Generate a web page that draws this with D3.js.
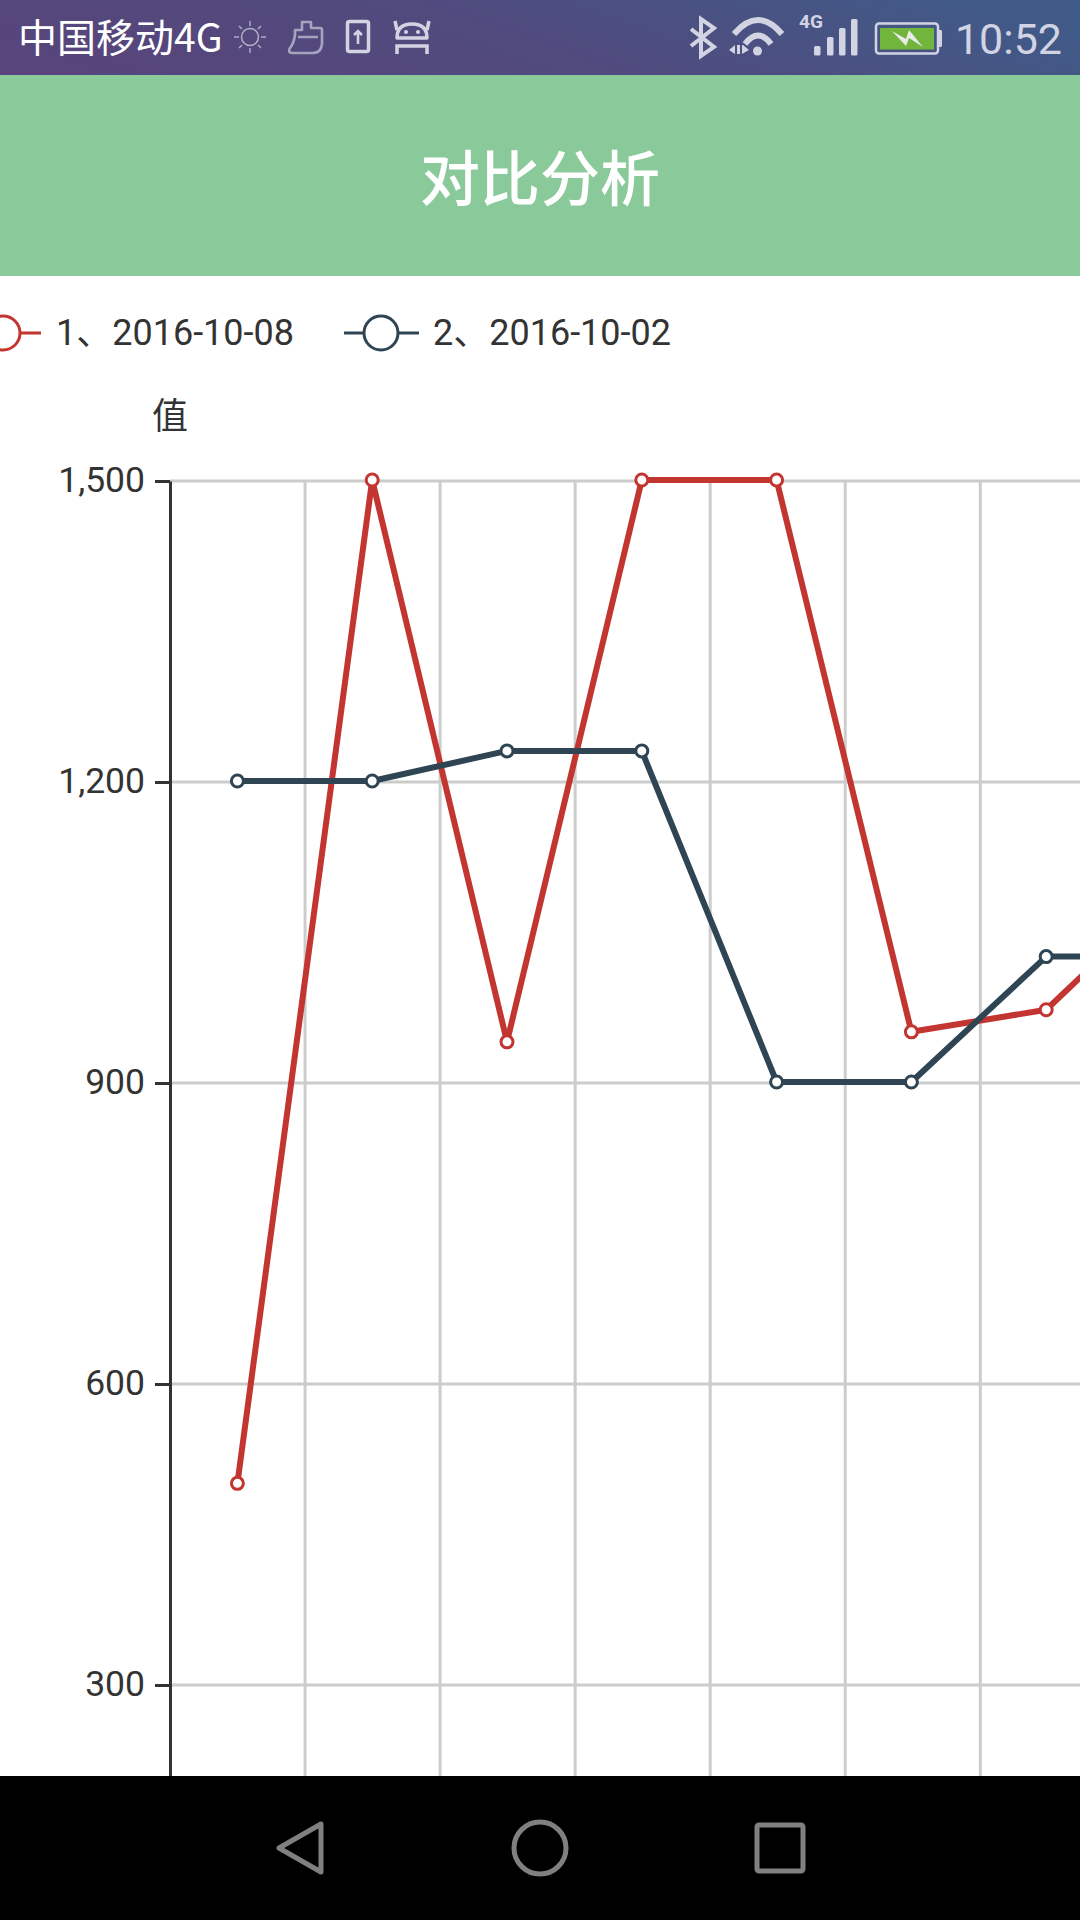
<!DOCTYPE html>
<html><head><meta charset="utf-8">
<script src="https://cdn.jsdelivr.net/npm/d3@7/dist/d3.min.js"></script>
<style>html,body{margin:0;padding:0;background:#fff}svg{display:block}text{font-family:Roboto,"Noto Sans CJK SC",sans-serif}</style>
</head><body><div id="c"></div>
<script>
const categories = [1,2,3,4,5,6,7,8];
const seriesRed = [500,1500,940,1500,1500,950,972,1100];
const seriesBlue = [1200,1200,1230,1230,900,900,1025,1025];
const legendNames = ["1、2016-10-08","2、2016-10-02"];
const yTicks = [300,600,900,1200,1500];
const titleText = "对比分析";
const axisName = "值";
const carrier = "中国移动4G";
const clock = "10:52";
const RED="#c23531",BLUE="#2f4554",INK="#333",GRID="#ccc",ICON="#d3d4e3";

const svg=d3.select("#c").append("svg").attr("width",1080).attr("height",1920);
const defs=svg.append("defs");
const g0=defs.append("linearGradient").attr("id","sb").attr("x1",0).attr("y1",.6).attr("x2",1).attr("y2",.4);
g0.append("stop").attr("offset",0).attr("stop-color","#57457b");
g0.append("stop").attr("offset",.5).attr("stop-color","#504b7e");
g0.append("stop").attr("offset",1).attr("stop-color","#405b88");

const x=d3.scaleBand().domain(categories).range([170,170+134.8*categories.length]);
const xGrid=d3.scaleBand().domain(categories).range([170,170+135.05*categories.length]);
const y=d3.scaleLinear().domain([0,1500]).range([1986,481]);
const cx=d=>x(d)+x.bandwidth()/2;

// chart grid
const plot=svg.append("g");
plot.append("g").selectAll("line").data(categories.slice(1)).join("line")
 .attr("x1",d=>xGrid(d)).attr("x2",d=>xGrid(d)).attr("y1",y(1500)).attr("y2",y(0))
 .attr("stroke",GRID).attr("stroke-width",3);
plot.append("g").selectAll("line").data(yTicks).join("line")
 .attr("x1",170).attr("x2",1250).attr("y1",d=>y(d)).attr("y2",d=>y(d))
 .attr("stroke",GRID).attr("stroke-width",3);

// axis
const ax=plot.append("g").attr("transform","translate(170,0)")
 .call(d3.axisLeft(y).tickValues(yTicks).tickFormat(d3.format(",")).tickSize(15).tickPadding(10).tickSizeOuter(0));
ax.select(".domain").attr("stroke",INK).attr("stroke-width",3);
ax.selectAll(".tick line").attr("stroke",INK).attr("stroke-width",3);
ax.selectAll(".tick text").attr("fill",INK).attr("y",-1).style("font-size","35.5px").style("font-family",'Roboto,"Noto Sans CJK SC"');
plot.append("text").attr("x",170).attr("y",429).attr("text-anchor","middle").attr("font-size",36).attr("fill",INK).text(axisName);

// series
const line=d3.line().x((d,i)=>cx(categories[i])).y(d=>y(d));
[[seriesRed,RED],[seriesBlue,BLUE]].forEach(([s,c])=>{
  const g=plot.append("g").attr("transform","translate(0,-1)");
  g.append("path").attr("d",line(s)).attr("fill","none").attr("stroke",c).attr("stroke-width",6).attr("stroke-linejoin","bevel");
  g.selectAll("circle").data(s).join("circle")
   .attr("cx",(d,i)=>cx(categories[i])).attr("cy",d=>y(d)).attr("r",6)
   .attr("fill","#fff").attr("stroke",c).attr("stroke-width",3);
});

// legend
const legend=svg.append("g");
const legendAt=[{cx:3,x:56},{cx:381,x:433}];
legendNames.forEach((n,i)=>{
  const c=[RED,BLUE][i],a=legendAt[i];
  legend.append("line").attr("x1",a.cx-37).attr("x2",a.cx+38).attr("y1",333).attr("y2",333).attr("stroke",c).attr("stroke-width",3);
  legend.append("circle").attr("cx",a.cx).attr("cy",333).attr("r",17).attr("fill","#fff").attr("stroke",c).attr("stroke-width",3);
  legend.append("text").attr("x",a.x).attr("y",345).attr("font-size",36).attr("fill",INK).text(n);
});

// header
svg.append("rect").attr("y",75).attr("width",1080).attr("height",201).attr("fill","#8ac99a");
svg.append("text").attr("x",540).attr("y",201).attr("text-anchor","middle").attr("font-size",60).attr("font-weight",500).attr("fill","#fff").style("font-family",'"Noto Sans CJK SC"').text(titleText);

// status bar
const sb=svg.append("g");
sb.append("rect").attr("width",1080).attr("height",75).attr("fill","url(#sb)");
sb.append("text").attr("x",18).attr("y",52).attr("font-size",39).attr("fill","#fff").style("font-family",'"Noto Sans CJK SC"').text(carrier);
sb.append("text").attr("x",1062).attr("y",54).attr("text-anchor","end").attr("font-size",43).attr("fill",ICON).text(clock);
// sun
const icons=sb.append("g").attr("fill","none").attr("stroke",ICON);
icons.append("circle").attr("cx",250).attr("cy",37).attr("r",8.5).attr("stroke-width",1.5).attr("opacity",.75);
icons.append("path").attr("opacity",.7).attr("stroke-width",1.5)
 .attr("d","M234 37h5M261 37h5M250 21v5M250 48v5M239 26l3 3M258 45l3 3M261 26l-3 3M242 45l-3 3");
// bag
icons.append("path").attr("stroke-width",2.6).attr("opacity",.65).attr("stroke-linejoin","round")
 .attr("d","M295 30h7v-8h9v6h9q2 0 2 2v14q-1 9-9 9h-20q-6 0-3-5q4-5 5-13zM298 37h20");
// upload
icons.append("rect").attr("x",347.5).attr("y",21.5).attr("width",21).attr("height",30).attr("rx",2).attr("stroke-width",3.5);
icons.append("path").attr("stroke-width",2.6).attr("d","M358 44V32M354 35l4-4 4 4");
// android
icons.append("path").attr("stroke-width",3.5).attr("d","M397 38q0-14 15-14t15 14zM397 30l-2-9M427 30l2-9").attr("stroke-linejoin","round");
icons.append("path").attr("stroke-width",3.5).attr("d","M397 54V46h30v8");
sb.append("circle").attr("cx",406).attr("cy",32).attr("r",2).attr("fill",ICON);
sb.append("circle").attr("cx",418).attr("cy",32).attr("r",2).attr("fill",ICON);
// bluetooth
icons.append("path").attr("stroke-width",4).attr("d","M691 29l23 18-13 9V19l13 9-23 18");
// wifi
icons.append("path").attr("stroke-width",6).attr("d","M734 34Q758 6 782 34M745 44Q758 27 771 44");
sb.append("circle").attr("cx",757.5).attr("cy",51).attr("r",4.5).attr("fill",ICON);
sb.append("path").attr("fill",ICON).attr("d","M729 50l6-5v9zM737 45h3v9h-3zM742 45l1 0 6 5-7 4z");
// signal
sb.append("text").attr("x",799).attr("y",28).attr("font-size",19).attr("font-weight",700).attr("fill",ICON).text("4G");
sb.selectAll("rect.sig").data([[814,46],[827,37],[839,28],[851,19]]).join("rect").attr("class","sig")
 .attr("x",d=>d[0]).attr("y",d=>d[1]).attr("width",6.5).attr("height",d=>55.5-d[1]).attr("rx",1.5).attr("fill",ICON);
// battery
icons.append("rect").attr("x",876).attr("y",23.5).attr("width",62).attr("height",30).attr("rx",3).attr("stroke-width",2.5);
sb.append("rect").attr("x",880).attr("y",28).attr("width",54).attr("height",21.5).attr("fill","#72b53c");
sb.append("path").attr("fill",ICON).attr("d","M939 30h2q1 0 1 2v13q0 2-1 2h-2z");
sb.append("path").attr("fill","#e8ebe8").attr("d","M892 31l14 8 3-9 14 17-14-9-3 8z");

// nav bar
const nav=svg.append("g");
nav.append("rect").attr("y",1776).attr("width",1080).attr("height",144).attr("fill","#000");
const ng=nav.append("g").attr("fill","none").attr("stroke","#808080").attr("stroke-width",5).attr("stroke-linejoin","round");
ng.append("path").attr("d","M321 1824V1872L279 1848Z");
ng.append("circle").attr("cx",540).attr("cy",1848).attr("r",26);
ng.append("rect").attr("x",757).attr("y",1825).attr("width",46).attr("height",46).attr("rx",2);
</script></body></html>
